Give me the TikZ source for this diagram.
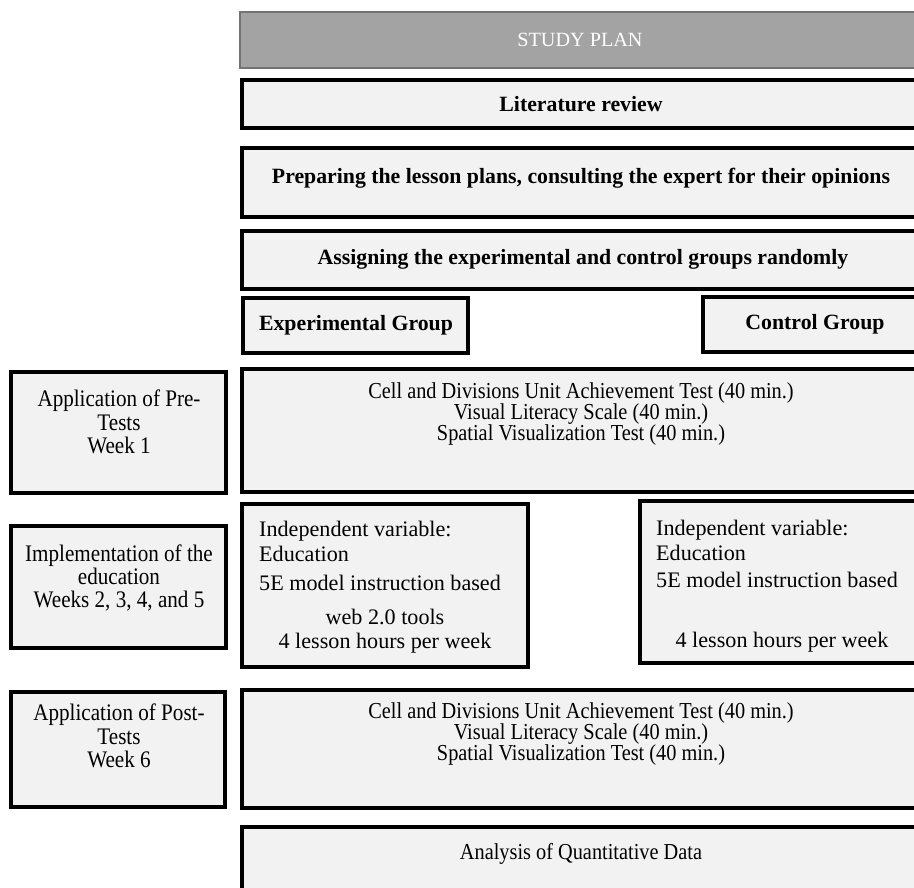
\documentclass[tikz,border=0pt]{standalone}
\usepackage{fontspec}
\setmainfont{Liberation Serif}
\newfontfamily\narrowserif[FakeStretch=0.89]{Liberation Serif}

\begin{document}
\begin{tikzpicture}[x=0.02cm, y=-0.02cm,
  box/.style={draw=black, line width=1.8pt, fill=black!5},
  headbox/.style={draw=black!55, line width=0.8pt, fill=black!36},
  headtext/.style={font=\fontsize{12.4}{14}\selectfont\bfseries},
  testtext/.style={font=\narrowserif\fontsize{13}{12.2}\selectfont, align=center},
  weektext/.style={font=\narrowserif\fontsize{13.5}{13.3}\selectfont, align=center},
  vartext/.style={font=\fontsize{12.6}{14.2}\selectfont}]

  \useasboundingbox (0,0) rectangle (914,888);
  \clip (0,0) rectangle (914,888);

  %% ---- STUDY PLAN ----
  \draw[headbox] (240,12) rectangle (925,68);
  \node[text=white, font=\fontsize{11.5}{13}\selectfont] (title) at (580,40) {STUDY PLAN};

  %% ---- preparation steps ----
  \draw[box] (242,80) rectangle (925,128);
  \node[headtext] (litrev) at (581,104) {Literature review};

  \draw[box] (242,148) rectangle (925,217);
  \node[headtext] (lessons) at (581,178) {Preparing the lesson plans, consulting the expert for their opinions};

  \draw[box] (242,231) rectangle (925,289);
  \node[headtext] (assign) at (583,259) {Assigning the experimental and control groups randomly};

  %% groups
  \draw[box] (243,298) rectangle (468,353);
  \node[headtext] (expgroup) at (356,325) {Experimental Group};

  \draw[box] (703,297) rectangle (925,352);
  \node[headtext] (ctrlgroup) at (815,324) {Control Group};

  %% ---- PRE-TESTS ----
  \draw[box] (11,372) rectangle (226,493);
  \node[weektext] (preweek) at (119,422) {Application of Pre-\\Tests\\Week 1};

  \draw[box] (242,369) rectangle (925,492);
  \node[testtext] (pretests) at (581,414) {Cell and Divisions Unit Achievement Test (40 min.)\\
    Visual Literacy Scale (40 min.)\\Spatial Visualization Test (40 min.)};

  %% ---- IMPLEMENTATION ----
  \draw[box] (11,526) rectangle (226,648);
  \node[weektext] (implweek) at (119,578) {Implementation of the\\education\\Weeks 2, 3, 4, and 5};

  %% experimental group
  \draw[box] (242,504) rectangle (528,667);
  \node[vartext, anchor=west, align=left] (expvar) at (253,541) {Independent variable:\\Education};
  \node[vartext, anchor=west] (expmodel) at (253,583) {5E model instruction based};
  \node[vartext] (expweb) at (385,617) {web 2.0 tools};
  \node[vartext] (exphours) at (385,643) {4 lesson hours per week};

  %% control group
  \draw[box] (640,501) rectangle (925,663);
  \node[vartext, anchor=west, align=left] (ctrlvar) at (650,540) {Independent variable:\\Education};
  \node[vartext, anchor=west] (ctrlmodel) at (650,580) {5E model instruction based};
  \node[vartext] (ctrlhours) at (782,642) {4 lesson hours per week};

  %% ---- POST-TESTS ----
  \draw[box] (11,692) rectangle (225,807);
  \node[weektext] (postweek) at (119,736) {Application of Post-\\Tests\\Week 6};

  \draw[box] (242,690) rectangle (925,808);
  \node[testtext] (posttests) at (581,734) {Cell and Divisions Unit Achievement Test (40 min.)\\
    Visual Literacy Scale (40 min.)\\Spatial Visualization Test (40 min.)};

  %% ---- ANALYSIS ----
  \draw[box] (242,827) rectangle (925,905);
  \node[testtext] (analysis) at (581,854) {Analysis of Quantitative Data};

\end{tikzpicture}
\end{document}
